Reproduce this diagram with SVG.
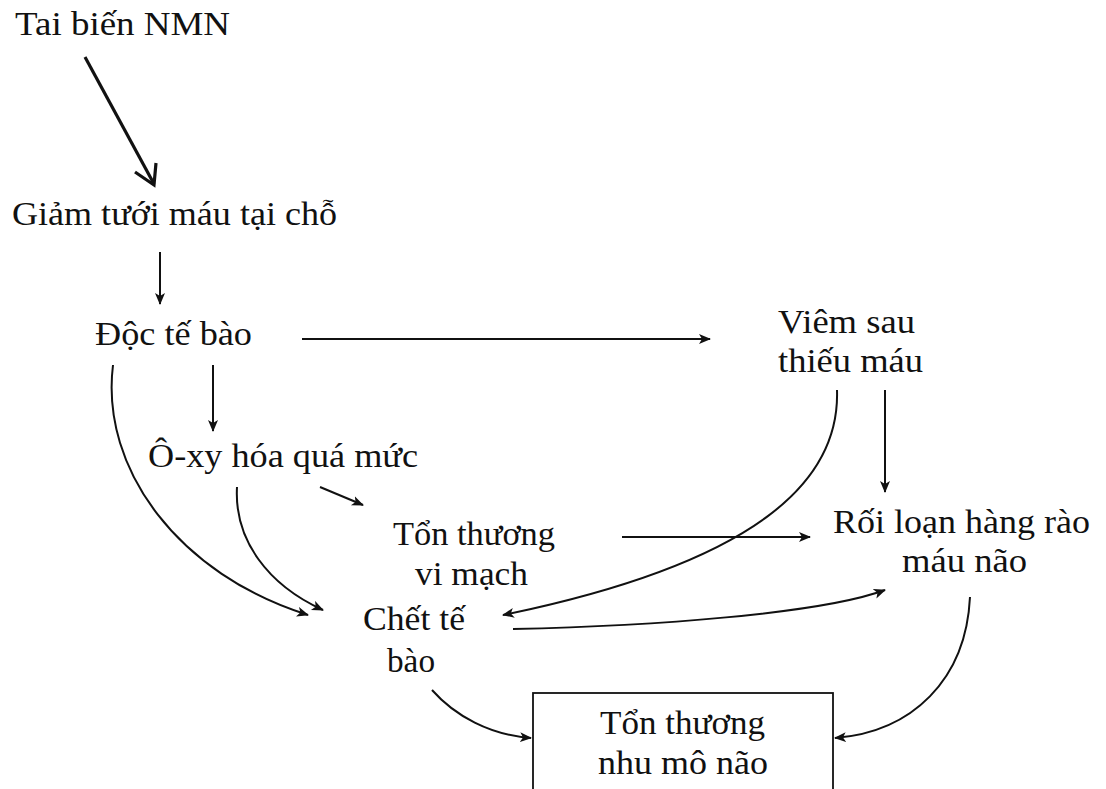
<svg xmlns="http://www.w3.org/2000/svg" width="1106" height="789" viewBox="0 0 1106 789">
<defs>
<style>
text{font-family:"Liberation Serif","Times New Roman",serif;font-size:34px;fill:#111}
.c{fill:none;stroke:#111;stroke-width:2}
</style>
<marker id="ah" markerUnits="userSpaceOnUse" markerWidth="14" markerHeight="12" refX="11" refY="5" orient="auto">
<path d="M0,0 L12,5 L0,10 L3,5 Z" fill="#111"/>
</marker>
</defs>
<rect width="1106" height="789" fill="#fff"/>
<g id="connectors">
<line x1="85" y1="57" x2="154" y2="184" stroke="#111" stroke-width="3.2"/>
<polyline points="135,172 154,185 156,163" fill="none" stroke="#111" stroke-width="3.2" stroke-linejoin="miter"/>
<line class="c" x1="160" y1="252" x2="160" y2="304" marker-end="url(#ah)"/>
<line class="c" x1="302" y1="339" x2="710" y2="339" marker-end="url(#ah)"/>
<line class="c" x1="213" y1="365" x2="213" y2="431" marker-end="url(#ah)"/>
<path class="c" d="M113,365 C100,470 180,575 308,615" marker-end="url(#ah)"/>
<path class="c" d="M237,487 C234,540 268,585 323,610" marker-end="url(#ah)"/>
<line class="c" x1="320" y1="487" x2="363" y2="505" marker-end="url(#ah)"/>
<line class="c" x1="622" y1="537" x2="810" y2="537" marker-end="url(#ah)"/>
<line class="c" x1="885" y1="390" x2="885" y2="492" marker-end="url(#ah)"/>
<path class="c" d="M837,390 C840,480 760,562 503,615" marker-end="url(#ah)"/>
<path class="c" d="M513,629 C650,626 820,614 885,590" marker-end="url(#ah)"/>
<path class="c" d="M432,690 C455,716 490,735 531,738" marker-end="url(#ah)"/>
<path class="c" d="M970,597 C966,680 912,732 835,738" marker-end="url(#ah)"/>
</g>
<g id="n-taibien"><text x="15" y="35" textLength="215" lengthAdjust="spacingAndGlyphs">Tai biến NMN</text></g>
<g id="n-giam"><text x="12" y="225" textLength="325" lengthAdjust="spacingAndGlyphs">Giảm tưới máu tại chỗ</text></g>
<g id="n-doc"><text x="95" y="345" textLength="157" lengthAdjust="spacingAndGlyphs">Độc tế bào</text></g>
<g id="n-oxy"><text x="148" y="467" textLength="270" lengthAdjust="spacingAndGlyphs">Ô-xy hóa quá mức</text></g>
<g id="n-viem"><text x="778" y="333" textLength="137" lengthAdjust="spacingAndGlyphs">Viêm sau</text><text x="778" y="372" textLength="145" lengthAdjust="spacingAndGlyphs">thiếu máu</text></g>
<g id="n-vimach"><text x="393" y="545" textLength="162" lengthAdjust="spacingAndGlyphs">Tổn thương</text><text x="415" y="585" textLength="113" lengthAdjust="spacingAndGlyphs">vi mạch</text></g>
<g id="n-chet"><text x="363" y="630" textLength="102" lengthAdjust="spacingAndGlyphs">Chết tế</text><text x="387" y="672" textLength="48" lengthAdjust="spacingAndGlyphs">bào</text></g>
<g id="n-roiloan"><text x="833" y="533" textLength="257" lengthAdjust="spacingAndGlyphs">Rối loạn hàng rào</text><text x="902" y="572" textLength="125" lengthAdjust="spacingAndGlyphs">máu não</text></g>
<g id="n-nhumo"><rect x="533" y="693" width="300" height="120" fill="#fff" stroke="#111" stroke-width="1.8"/><text x="600" y="734" textLength="165" lengthAdjust="spacingAndGlyphs">Tổn thương</text><text x="598" y="774" textLength="170" lengthAdjust="spacingAndGlyphs">nhu mô não</text></g>
</svg>
